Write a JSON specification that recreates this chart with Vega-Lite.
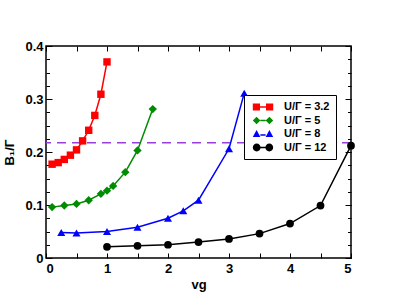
{
  "$schema": "https://vega.github.io/schema/vega-lite/v6.json",
  "width": 305,
  "height": 212,
  "autosize": {"type": "none"},
  "padding": {"left": 46, "top": 46, "right": 44, "bottom": 47},
  "background": "white",
  "config": {
    "view": {"stroke": "black", "strokeWidth": 1.5},
    "font": "Liberation Sans",
    "axis": {"grid": false, "domain": false, "labelFont": "Liberation Sans", "labelFontWeight": "bold", "labelFontSize": 13, "labelColor": "black", "titleFont": "Liberation Sans", "titleFontWeight": "bold", "titleFontSize": 13, "titleColor": "black", "tickColor": "black", "tickWidth": 1},
    "legend": {"orient": "none", "legendX": 198, "legendY": 49, "title": null, "strokeColor": "black", "fillColor": "white", "padding": 6, "labelFont": "Liberation Sans", "labelFontWeight": "bold", "labelFontSize": 11, "labelColor": "black", "symbolSize": 144, "symbolStrokeWidth": 0, "rowPadding": 2.5, "symbolOffset": 7, "labelOffset": 15, "symbolOpacity": 1}
  },
  "datasets": {
    "main": [
      {"series": "U/Γ = 3.2", "vg": 0.1, "B": 0.177},
      {"series": "U/Γ = 3.2", "vg": 0.2, "B": 0.180},
      {"series": "U/Γ = 3.2", "vg": 0.3, "B": 0.186},
      {"series": "U/Γ = 3.2", "vg": 0.4, "B": 0.194},
      {"series": "U/Γ = 3.2", "vg": 0.5, "B": 0.204},
      {"series": "U/Γ = 3.2", "vg": 0.6, "B": 0.221},
      {"series": "U/Γ = 3.2", "vg": 0.7, "B": 0.241},
      {"series": "U/Γ = 3.2", "vg": 0.8, "B": 0.269},
      {"series": "U/Γ = 3.2", "vg": 0.9, "B": 0.309},
      {"series": "U/Γ = 3.2", "vg": 1.0, "B": 0.370},
      {"series": "U/Γ = 5", "vg": 0.1, "B": 0.096},
      {"series": "U/Γ = 5", "vg": 0.3, "B": 0.099},
      {"series": "U/Γ = 5", "vg": 0.5, "B": 0.102},
      {"series": "U/Γ = 5", "vg": 0.7, "B": 0.109},
      {"series": "U/Γ = 5", "vg": 0.9, "B": 0.121},
      {"series": "U/Γ = 5", "vg": 1.0, "B": 0.127},
      {"series": "U/Γ = 5", "vg": 1.1, "B": 0.136},
      {"series": "U/Γ = 5", "vg": 1.3, "B": 0.162},
      {"series": "U/Γ = 5", "vg": 1.5, "B": 0.203},
      {"series": "U/Γ = 5", "vg": 1.75, "B": 0.281},
      {"series": "U/Γ = 8", "vg": 0.25, "B": 0.048},
      {"series": "U/Γ = 8", "vg": 0.5, "B": 0.047},
      {"series": "U/Γ = 8", "vg": 1.0, "B": 0.050},
      {"series": "U/Γ = 8", "vg": 1.5, "B": 0.058},
      {"series": "U/Γ = 8", "vg": 2.0, "B": 0.075},
      {"series": "U/Γ = 8", "vg": 2.25, "B": 0.089},
      {"series": "U/Γ = 8", "vg": 2.5, "B": 0.109},
      {"series": "U/Γ = 8", "vg": 3.0, "B": 0.206},
      {"series": "U/Γ = 8", "vg": 3.25, "B": 0.311},
      {"series": "U/Γ = 12", "vg": 1.0, "B": 0.021},
      {"series": "U/Γ = 12", "vg": 1.5, "B": 0.023},
      {"series": "U/Γ = 12", "vg": 2.0, "B": 0.025},
      {"series": "U/Γ = 12", "vg": 2.5, "B": 0.030},
      {"series": "U/Γ = 12", "vg": 3.0, "B": 0.036},
      {"series": "U/Γ = 12", "vg": 3.5, "B": 0.046},
      {"series": "U/Γ = 12", "vg": 4.0, "B": 0.065},
      {"series": "U/Γ = 12", "vg": 4.5, "B": 0.099},
      {"series": "U/Γ = 12", "vg": 5.0, "B": 0.212}
    ],
    "ref": [{"B": 0.2175}]
  },
  "resolve": {"axis": {"x": "independent", "y": "independent"}},
  "layer": [
    {
      "data": {"name": "ref"},
      "mark": {"type": "rule", "color": "#9b3ee0", "strokeWidth": 1.5, "strokeDash": [9, 6]},
      "encoding": {
        "y": {"field": "B", "type": "quantitative", "axis": null, "scale": {"domain": [0, 0.4], "nice": false}}
      }
    },
    {
      "data": {"name": "main"},
      "mark": {"type": "line", "strokeWidth": 1.5},
      "encoding": {
        "x": {"field": "vg", "type": "quantitative", "scale": {"domain": [0, 5], "nice": false}, "axis": {"orient": "bottom", "values": [0, 1, 2, 3, 4, 5], "ticks": false, "labelPadding": 4, "title": "vg", "titlePadding": 3}},
        "y": {"field": "B", "type": "quantitative", "scale": {"domain": [0, 0.4], "nice": false}, "axis": {"orient": "left", "values": [0, 0.1, 0.2, 0.3, 0.4], "ticks": false, "labelPadding": 3, "labelExpr": "datum.value == 0 ? '0' : format(datum.value, '.1f')", "title": "B₁/Γ", "titlePadding": 8}},
        "color": {"field": "series", "type": "nominal", "scale": {"domain": ["U/Γ = 3.2", "U/Γ = 5", "U/Γ = 8", "U/Γ = 12"], "range": ["#ff0000", "#008c00", "#0000ff", "#000000"]}},
        "detail": {"field": "series"}
      }
    },
    {
      "data": {"name": "main"},
      "transform": [{"filter": "datum.series == 'U/Γ = 3.2'"}],
      "mark": {"type": "point", "shape": "square", "filled": true, "opacity": 1, "size": 55},
      "encoding": {
        "x": {"field": "vg", "type": "quantitative", "axis": {"orient": "bottom", "values": [0, 0.5, 1, 1.5, 2, 2.5, 3, 3.5, 4, 4.5, 5], "labels": false, "title": null, "tickSize": -5}},
        "y": {"field": "B", "type": "quantitative", "axis": {"orient": "left", "values": [0, 0.1, 0.2, 0.3, 0.4], "labels": false, "title": null, "tickSize": -6}},
        "color": {"field": "series", "type": "nominal"}
      }
    },
    {
      "data": {"name": "main"},
      "transform": [{"filter": "datum.series == 'U/Γ = 5'"}],
      "mark": {"type": "point", "shape": "diamond", "filled": true, "opacity": 1, "size": 70},
      "encoding": {
        "x": {"field": "vg", "type": "quantitative", "axis": {"orient": "top", "values": [0, 0.5, 1, 1.5, 2, 2.5, 3, 3.5, 4, 4.5, 5], "labels": false, "title": null, "tickSize": -5}},
        "y": {"field": "B", "type": "quantitative", "axis": {"orient": "left", "values": [0, 0.025, 0.05, 0.075, 0.1, 0.125, 0.15, 0.175, 0.2, 0.225, 0.25, 0.275, 0.3, 0.325, 0.35, 0.375, 0.4], "labels": false, "title": null, "tickSize": -3.5}},
        "color": {"field": "series", "type": "nominal"}
      }
    },
    {
      "data": {"name": "main"},
      "transform": [{"filter": "datum.series == 'U/Γ = 8'"}],
      "mark": {"type": "point", "shape": "triangle-up", "filled": true, "opacity": 1, "size": 65},
      "encoding": {
        "x": {"field": "vg", "type": "quantitative", "axis": null},
        "y": {"field": "B", "type": "quantitative", "axis": {"orient": "right", "values": [0, 0.1, 0.2, 0.3, 0.4], "labels": false, "title": null, "tickSize": -6}},
        "color": {"field": "series", "type": "nominal"}
      }
    },
    {
      "data": {"name": "main"},
      "transform": [{"filter": "datum.series == 'U/Γ = 12'"}],
      "mark": {"type": "point", "shape": "circle", "filled": true, "opacity": 1, "size": 60},
      "encoding": {
        "x": {"field": "vg", "type": "quantitative", "axis": null},
        "y": {"field": "B", "type": "quantitative", "axis": {"orient": "right", "values": [0, 0.025, 0.05, 0.075, 0.1, 0.125, 0.15, 0.175, 0.2, 0.225, 0.25, 0.275, 0.3, 0.325, 0.35, 0.375, 0.4], "labels": false, "title": null, "tickSize": -3.5}},
        "color": {"field": "series", "type": "nominal"}
      }
    },
    {
      "data": {"name": "main"},
      "mark": {"type": "point", "filled": true, "opacity": 1, "size": 0},
      "encoding": {
        "x": {"field": "vg", "type": "quantitative", "axis": null},
        "y": {"field": "B", "type": "quantitative", "axis": null},
        "color": {"field": "series", "type": "nominal"},
        "shape": {"field": "series", "type": "nominal", "scale": {"domain": ["U/Γ = 3.2", "U/Γ = 5", "U/Γ = 8", "U/Γ = 12"], "range": [
          "M-1.7,-0.6H-0.5V0.6H-1.7Z M0.5,-0.6H1.7V0.6H0.5Z M-0.5,-0.12H0.5V0.12H-0.5Z",
          "M-1.7,0L-1.07,-0.63L-0.44,0L-1.07,0.63Z M0.44,0L1.07,-0.63L1.7,0L1.07,0.63Z M-0.44,-0.12H0.44V0.12H-0.44Z",
          "M-1.7,0.5L-1.07,-0.65L-0.44,0.5Z M0.44,0.5L1.07,-0.65L1.7,0.5Z M-0.44,0.05H0.44V0.29H-0.44Z",
          "M-0.4,0A0.65,0.65 0 1,1 -1.7,0A0.65,0.65 0 1,1 -0.4,0Z M1.7,0A0.65,0.65 0 1,1 0.4,0A0.65,0.65 0 1,1 1.7,0Z M-0.45,-0.12H0.45V0.12H-0.45Z"
        ]}}
      }
    }
  ]
}
